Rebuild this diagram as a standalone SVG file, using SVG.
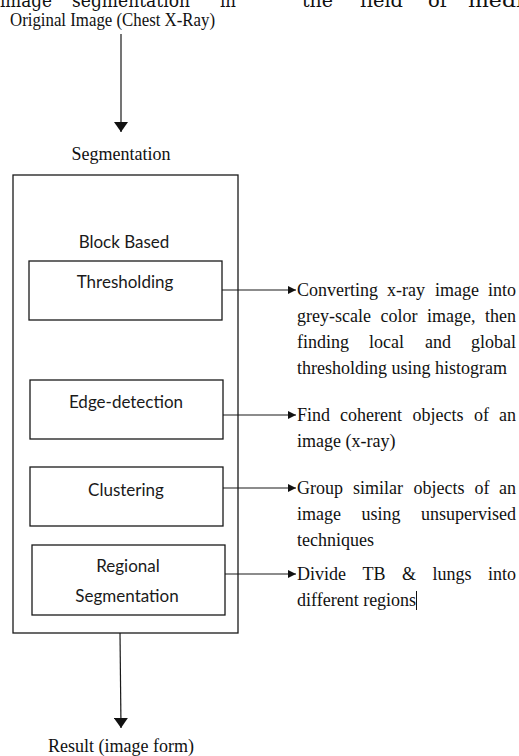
<svg xmlns="http://www.w3.org/2000/svg" width="519" height="756" viewBox="0 0 519 756">
  <style>
    .box { fill: none; stroke: #1a1a1a; stroke-width: 1.3; }
    .wire { fill: none; stroke: #1a1a1a; stroke-width: 1.2; }
    .sans { font-family: Lato, "Open Sans", sans-serif; font-size: 17px; fill: #1a1a1a; text-anchor: middle; }
    .serif { font-family: "Liberation Serif", "Times New Roman", serif; font-size: 18px; fill: #111; }
    .head { font-family: "DejaVu Serif", "Liberation Serif", serif; font-size: 18px; fill: #111; }
    .end { text-anchor: end; }
  </style>
  <defs>
    <marker id="bigArrow" viewBox="0 0 10 14" refX="10" refY="7" markerUnits="userSpaceOnUse" markerWidth="10" markerHeight="14" orient="auto">
      <path d="M0,0 L10,7 L0,14 Z" fill="#111"/>
    </marker>
    <marker id="smallArrow" viewBox="0 0 8 8" refX="8" refY="4" markerUnits="userSpaceOnUse" markerWidth="8" markerHeight="8" orient="auto">
      <path d="M0,0 L8,4 L0,8 Z" fill="#111"/>
    </marker>
  </defs>

  <!-- running text of the surrounding page, clipped at the top edge -->
  <g class="head">
    <text x="0" y="7" textLength="52" lengthAdjust="spacingAndGlyphs">image</text>
    <text x="72" y="7" textLength="118" lengthAdjust="spacingAndGlyphs">segmentation</text>
    <text x="220" y="7" textLength="16" lengthAdjust="spacingAndGlyphs">in</text>
    <text x="302" y="7" textLength="31" lengthAdjust="spacingAndGlyphs">the</text>
    <text x="360" y="7" textLength="43" lengthAdjust="spacingAndGlyphs">field</text>
    <text x="428" y="7" textLength="19" lengthAdjust="spacingAndGlyphs">of</text>
    <text x="468" y="7" textLength="55" lengthAdjust="spacingAndGlyphs">medi</text>
  </g>

  <g id="node-original">
    <text class="serif" x="10" y="26" style="font-size:19px" textLength="205" lengthAdjust="spacingAndGlyphs">Original Image (Chest X-Ray)</text>
  </g>

  <g id="node-segmentation">
    <text class="serif" x="121" y="160" text-anchor="middle">Segmentation</text>
    <rect class="box" x="13" y="175" width="225" height="458"/>
    <text class="sans" x="124" y="248">Block Based</text>
  </g>

  <g id="node-thresholding">
    <rect class="box" x="29" y="261" width="193" height="59"/>
    <text class="sans" x="125" y="288">Thresholding</text>
  </g>

  <g id="node-edge">
    <rect class="box" x="30" y="380" width="193" height="59"/>
    <text class="sans" x="126" y="408">Edge-detection</text>
  </g>

  <g id="node-clustering">
    <rect class="box" x="30" y="467" width="193" height="59"/>
    <text class="sans" x="126" y="496">Clustering</text>
  </g>

  <g id="node-regional">
    <rect class="box" x="32" y="545" width="193" height="70"/>
    <text class="sans" x="128" y="572">Regional</text>
    <text class="sans" x="127" y="602">Segmentation</text>
  </g>

  <g id="note-thresholding" class="serif">
    <text y="296"><tspan x="297">Converting</tspan><tspan x="387">x-ray</tspan><tspan x="435">image</tspan><tspan x="516" class="end">into</tspan></text>
    <text y="322"><tspan x="297">grey-scale</tspan><tspan x="380.5">color</tspan><tspan x="427">image,</tspan><tspan x="516" class="end">then</tspan></text>
    <text y="348"><tspan x="297">finding</tspan><tspan x="369">local</tspan><tspan x="425">and</tspan><tspan x="516" class="end">global</tspan></text>
    <text y="374"><tspan x="297">thresholding using histogram</tspan></text>
  </g>

  <g id="note-edge" class="serif">
    <text y="421"><tspan x="297">Find</tspan><tspan x="340">coherent</tspan><tspan x="412.5">objects</tspan><tspan x="474">of</tspan><tspan x="516" class="end">an</tspan></text>
    <text y="447"><tspan x="297">image (x-ray)</tspan></text>
  </g>

  <g id="note-clustering" class="serif">
    <text y="494"><tspan x="297">Group</tspan><tspan x="353">similar</tspan><tspan x="413.5">objects</tspan><tspan x="474.5">of</tspan><tspan x="516" class="end">an</tspan></text>
    <text y="520"><tspan x="297">image</tspan><tspan x="361.5">using</tspan><tspan x="516" class="end">unsupervised</tspan></text>
    <text y="546"><tspan x="297">techniques</tspan></text>
  </g>

  <g id="note-regional" class="serif">
    <text y="580"><tspan x="297">Divide</tspan><tspan x="362.5">TB</tspan><tspan x="402">&amp;</tspan><tspan x="432.5">lungs</tspan><tspan x="516" class="end">into</tspan></text>
    <text y="606"><tspan x="297">different regions</tspan></text>
    <line x1="416.5" y1="591" x2="416.5" y2="610" stroke="#111" stroke-width="1"/>
  </g>

  <g id="node-result">
    <text class="serif" x="121" y="752" text-anchor="middle">Result (image form)</text>
  </g>

  <g id="connectors">
    <line class="wire" x1="121" y1="34" x2="121" y2="132" marker-end="url(#bigArrow)"/>
    <line class="wire" x1="120" y1="633" x2="121" y2="728" marker-end="url(#bigArrow)"/>
    <line class="wire" x1="222" y1="290" x2="296" y2="290" marker-end="url(#smallArrow)"/>
    <line class="wire" x1="223" y1="415" x2="296" y2="415" marker-end="url(#smallArrow)"/>
    <line class="wire" x1="223" y1="488" x2="296" y2="488" marker-end="url(#smallArrow)"/>
    <line class="wire" x1="225" y1="574" x2="296" y2="574" marker-end="url(#smallArrow)"/>
  </g>
</svg>
